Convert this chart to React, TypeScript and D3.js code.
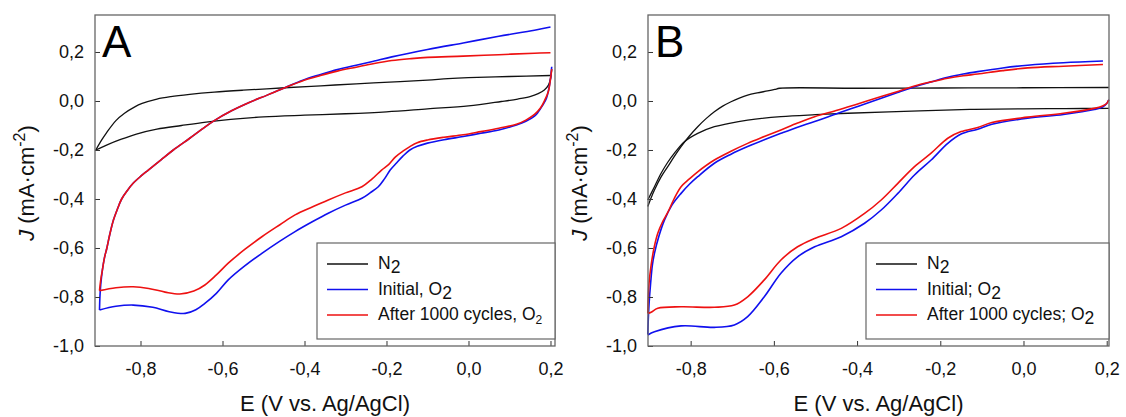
import React, { useRef, useEffect } from "react"
import * as d3 from "d3"

// panel A, [E, J] pairs, anodic (up) and cathodic (down) sweeps
const aN2Up = [[-0.909,-0.2],[-0.895,-0.16],[-0.883,-0.13],[-0.86,-0.08],[-0.839,-0.05],[-0.815,-0.025],[-0.796,-0.01],[-0.76,0.008],[-0.726,0.018],[-0.68,0.027],[-0.62,0.036],[-0.55,0.044],[-0.448,0.054],[-0.36,0.062],[-0.274,0.07],[-0.18,0.078],[-0.1,0.085],[-0.05,0.091],[0.0,0.095],[0.1,0.1],[0.2,0.104]]
const aN2Down = [[0.203,0.13],[0.2,0.09],[0.195,0.065],[0.185,0.045],[0.17,0.03],[0.15,0.018],[0.12,0.008],[0.08,-0.002],[0.0,-0.02],[-0.1,-0.032],[-0.2,-0.044],[-0.3,-0.052],[-0.4,-0.058],[-0.5,-0.065],[-0.58,-0.075],[-0.64,-0.086],[-0.7,-0.1],[-0.76,-0.115],[-0.81,-0.135],[-0.85,-0.158],[-0.88,-0.178],[-0.909,-0.2]]
const aBlueUp = [[-0.9,-0.853],[-0.899,-0.8],[-0.897,-0.75],[-0.893,-0.69],[-0.888,-0.64],[-0.882,-0.6],[-0.875,-0.545],[-0.866,-0.486],[-0.856,-0.44],[-0.846,-0.4],[-0.832,-0.365],[-0.818,-0.336],[-0.8,-0.308],[-0.781,-0.282],[-0.75,-0.24],[-0.72,-0.2],[-0.68,-0.152],[-0.65,-0.115],[-0.622,-0.082],[-0.578,-0.04],[-0.535,-0.006],[-0.491,0.024],[-0.448,0.054],[-0.404,0.085],[-0.361,0.108],[-0.32,0.128],[-0.274,0.146],[-0.23,0.163],[-0.187,0.18],[-0.1,0.21],[-0.013,0.237],[0.074,0.264],[0.161,0.289],[0.2,0.302]]
const aBlueDown = [[0.203,0.14],[0.2,0.09],[0.196,0.05],[0.19,0.01],[0.18,-0.02],[0.17,-0.045],[0.161,-0.062],[0.14,-0.083],[0.117,-0.098],[0.074,-0.118],[0.03,-0.132],[-0.013,-0.145],[-0.06,-0.158],[-0.1,-0.172],[-0.125,-0.185],[-0.143,-0.2],[-0.16,-0.225],[-0.175,-0.252],[-0.191,-0.282],[-0.205,-0.318],[-0.22,-0.35],[-0.24,-0.375],[-0.26,-0.397],[-0.3,-0.425],[-0.342,-0.458],[-0.38,-0.492],[-0.423,-0.533],[-0.46,-0.572],[-0.504,-0.622],[-0.545,-0.672],[-0.586,-0.73],[-0.615,-0.785],[-0.643,-0.826],[-0.665,-0.852],[-0.691,-0.867],[-0.73,-0.86],[-0.77,-0.842],[-0.818,-0.833],[-0.86,-0.838],[-0.9,-0.853]]
const aRedUp = [[-0.9,-0.774],[-0.897,-0.73],[-0.893,-0.69],[-0.888,-0.64],[-0.882,-0.6],[-0.875,-0.545],[-0.866,-0.486],[-0.856,-0.44],[-0.846,-0.4],[-0.832,-0.365],[-0.818,-0.336],[-0.8,-0.308],[-0.781,-0.282],[-0.75,-0.24],[-0.72,-0.2],[-0.68,-0.152],[-0.65,-0.115],[-0.622,-0.082],[-0.578,-0.04],[-0.535,-0.006],[-0.491,0.024],[-0.448,0.054],[-0.404,0.083],[-0.361,0.104],[-0.32,0.122],[-0.274,0.138],[-0.23,0.153],[-0.187,0.165],[-0.14,0.173],[-0.1,0.178],[-0.013,0.183],[0.074,0.189],[0.161,0.195],[0.2,0.197]]
const aRedDown = [[0.203,0.13],[0.2,0.09],[0.195,0.04],[0.185,0.0],[0.175,-0.03],[0.161,-0.055],[0.14,-0.078],[0.117,-0.095],[0.074,-0.111],[0.03,-0.125],[-0.013,-0.138],[-0.06,-0.148],[-0.1,-0.159],[-0.125,-0.17],[-0.143,-0.186],[-0.16,-0.205],[-0.178,-0.228],[-0.195,-0.26],[-0.212,-0.282],[-0.235,-0.318],[-0.26,-0.35],[-0.3,-0.375],[-0.342,-0.404],[-0.38,-0.432],[-0.423,-0.465],[-0.46,-0.505],[-0.504,-0.554],[-0.545,-0.605],[-0.586,-0.662],[-0.615,-0.71],[-0.643,-0.751],[-0.67,-0.776],[-0.704,-0.788],[-0.74,-0.78],[-0.78,-0.765],[-0.818,-0.758],[-0.86,-0.762],[-0.9,-0.774]]

// panel B
const bN2Up = [[-0.903,-0.431],[-0.895,-0.395],[-0.887,-0.363],[-0.871,-0.31],[-0.855,-0.268],[-0.84,-0.228],[-0.823,-0.186],[-0.803,-0.143],[-0.783,-0.105],[-0.763,-0.072],[-0.743,-0.044],[-0.723,-0.021],[-0.703,-0.003],[-0.683,0.012],[-0.663,0.024],[-0.64,0.033],[-0.615,0.041],[-0.598,0.047],[-0.586,0.052],[-0.4,0.052],[-0.2,0.053],[0.0,0.054],[0.205,0.055]]
const bN2Down = [[0.205,-0.03],[0.1,-0.031],[0.0,-0.032],[-0.118,-0.034],[-0.25,-0.04],[-0.422,-0.05],[-0.5,-0.056],[-0.583,-0.064],[-0.663,-0.078],[-0.71,-0.092],[-0.743,-0.105],[-0.783,-0.132],[-0.815,-0.166],[-0.839,-0.213],[-0.855,-0.25],[-0.871,-0.295],[-0.887,-0.35],[-0.903,-0.404]]
const bBlueUp = [[-0.903,-0.952],[-0.902,-0.9],[-0.9,-0.83],[-0.896,-0.74],[-0.892,-0.67],[-0.887,-0.622],[-0.876,-0.55],[-0.863,-0.486],[-0.845,-0.425],[-0.823,-0.377],[-0.803,-0.34],[-0.783,-0.309],[-0.743,-0.254],[-0.703,-0.217],[-0.663,-0.186],[-0.623,-0.158],[-0.583,-0.132],[-0.543,-0.107],[-0.502,-0.084],[-0.446,-0.05],[-0.395,-0.02],[-0.342,0.011],[-0.3,0.036],[-0.262,0.058],[-0.222,0.078],[-0.182,0.097],[-0.145,0.11],[-0.11,0.12],[-0.05,0.135],[0.01,0.146],[0.096,0.156],[0.191,0.163]]
const bBlueDown = [[0.205,0.005],[0.2,-0.01],[0.19,-0.025],[0.17,-0.035],[0.096,-0.055],[0.01,-0.07],[-0.076,-0.095],[-0.11,-0.115],[-0.15,-0.135],[-0.182,-0.173],[-0.222,-0.241],[-0.262,-0.302],[-0.302,-0.377],[-0.342,-0.445],[-0.382,-0.499],[-0.438,-0.554],[-0.502,-0.595],[-0.543,-0.636],[-0.583,-0.703],[-0.623,-0.799],[-0.663,-0.88],[-0.695,-0.914],[-0.743,-0.924],[-0.823,-0.918],[-0.887,-0.942],[-0.903,-0.955]]
const bRedUp = [[-0.903,-0.866],[-0.902,-0.81],[-0.9,-0.744],[-0.895,-0.67],[-0.888,-0.6],[-0.879,-0.54],[-0.868,-0.495],[-0.855,-0.455],[-0.84,-0.4],[-0.823,-0.35],[-0.803,-0.318],[-0.783,-0.289],[-0.743,-0.241],[-0.703,-0.205],[-0.663,-0.173],[-0.623,-0.145],[-0.583,-0.118],[-0.543,-0.09],[-0.502,-0.064],[-0.446,-0.037],[-0.395,-0.01],[-0.342,0.018],[-0.3,0.04],[-0.262,0.061],[-0.222,0.078],[-0.182,0.093],[-0.145,0.103],[-0.11,0.11],[-0.05,0.124],[0.01,0.135],[0.096,0.142],[0.191,0.149]]
const bRedDown = [[0.205,0.005],[0.2,-0.01],[0.19,-0.02],[0.17,-0.03],[0.096,-0.05],[0.01,-0.066],[-0.076,-0.088],[-0.11,-0.108],[-0.15,-0.125],[-0.182,-0.152],[-0.222,-0.213],[-0.262,-0.268],[-0.302,-0.336],[-0.342,-0.404],[-0.382,-0.459],[-0.438,-0.52],[-0.502,-0.561],[-0.543,-0.595],[-0.583,-0.649],[-0.623,-0.73],[-0.663,-0.799],[-0.695,-0.833],[-0.743,-0.842],[-0.823,-0.84],[-0.879,-0.846],[-0.895,-0.862],[-0.903,-0.867]]

const xTicks = [-0.8, -0.6, -0.4, -0.2, 0.0, 0.2]
const yTicks = [0.2, 0.0, -0.2, -0.4, -0.6, -0.8, -1.0]
const legendA = [["N", "2", false], ["Initial, O", "2", false], ["After 1000 cycles, O", "2", true]]
const legendB = [["N", "2", false], ["Initial; O", "2", false], ["After 1000 cycles; O", "2", false]]
const colors = ["#111111", "#1010ee", "#ee1111"]

const FONT = "Liberation Sans, Arial, sans-serif"
const fmt = (d: number) => d3.format(".1f")(d).replace(".", ",").replace("−", "-")

export default function App() {
    const svgRef = useRef<SVGSVGElement>(null)

    useEffect(() => {
        const svg = d3.select(svgRef.current)
        svg.selectAll("*").remove()

        const panels = [
            { letter: "A", x0: 95, x1: 555, dom: [-0.911, 0.211], series: [[aN2Up, aN2Down], [aBlueUp, aBlueDown], [aRedUp, aRedDown]], legend: legendA, lx: 317, labX: 27 },
            { letter: "B", x0: 648, x1: 1109, dom: [-0.9025, 0.2055], series: [[bN2Up, bN2Down], [bBlueUp, bBlueDown], [bRedUp, bRedDown]], legend: legendB, lx: 866, labX: 580 },
        ]
        const top = 15, bottom = 346

        panels.forEach(p => {
            const x = d3.scaleLinear().domain(p.dom).range([p.x0, p.x1])
            const y = d3.scaleLinear().domain([-1.0, 0.351]).range([bottom, top])
            const g = svg.append("g")

            // curves
            const line = d3.line<number[]>().x(d => x(d[0])).y(d => y(d[1])).curve(d3.curveCatmullRom)
            p.series.forEach((s, i) => {
                s.forEach(branch => {
                    g.append("path")
                        .attr("d", line(branch as number[][]))
                        .attr("fill", "none")
                        .attr("stroke", colors[i])
                        .attr("stroke-width", i == 0 ? 1.3 : 1.6)
                })
            })

            // axes, ticks inward
            g.append("g")
                .attr("transform", "translate(0," + bottom + ")")
                .call(d3.axisBottom(x).tickValues(xTicks).tickSizeInner(-5).tickSizeOuter(0).tickPadding(16).tickFormat(d => fmt(+d)))
                .call(a => a.select(".domain").remove())
                .call(a => a.selectAll("line").attr("stroke", "#333"))
                .call(a => a.selectAll("text").attr("font-size", "18px").attr("font-family", FONT).attr("fill", "#111"))
            g.append("g")
                .attr("transform", "translate(" + p.x0 + ",0)")
                .call(d3.axisLeft(y).tickValues(yTicks).tickSizeInner(-5).tickSizeOuter(0).tickPadding(11).tickFormat(d => fmt(+d)))
                .call(a => a.select(".domain").remove())
                .call(a => a.selectAll("line").attr("stroke", "#333"))
                .call(a => a.selectAll("text").attr("font-size", "18px").attr("font-family", FONT).attr("fill", "#111"))

            // frame
            g.append("rect")
                .attr("x", p.x0).attr("y", top)
                .attr("width", p.x1 - p.x0).attr("height", bottom - top)
                .attr("fill", "none").attr("stroke", "#666").attr("stroke-width", 1.3)

            // panel letter
            g.append("text")
                .attr("x", p.x0 + 7).attr("y", 57)
                .attr("font-family", FONT)
                .attr("font-size", "44px")
                .attr("fill", "#000")
                .text(p.letter)

            // axis titles
            g.append("text")
                .attr("x", (p.x0 + p.x1) / 2).attr("y", 411)
                .attr("text-anchor", "middle")
                .attr("font-family", FONT)
                .attr("font-size", "22px")
                .attr("fill", "#111")
                .text("E (V vs. Ag/AgCl)")
            const yl = g.append("text")
                .attr("transform", "translate(" + (p.labX + 7) + "," + 183 + ") rotate(-90)")
                .attr("text-anchor", "middle")
                .attr("font-family", FONT)
                .attr("font-size", "22px")
                .attr("fill", "#111")
            yl.append("tspan").attr("font-style", "italic").text("J")
            yl.append("tspan").text(" (mA·cm")
            yl.append("tspan").attr("dy", -9).attr("font-size", "16px").text("-2")
            yl.append("tspan").attr("dy", 9).text(")")

            // legend
            const lg = g.append("g")
            lg.append("rect")
                .attr("x", p.lx).attr("y", 243)
                .attr("width", p.x1 - p.lx).attr("height", 96)
                .attr("fill", "#fff").attr("stroke", "#666").attr("stroke-width", 1.2)
            p.legend.forEach((l, i) => {
                const ly = 264 + i * 25.5
                lg.append("line")
                    .attr("x1", p.lx + 10).attr("x2", p.lx + 51)
                    .attr("y1", ly).attr("y2", ly)
                    .attr("stroke", colors[i]).attr("stroke-width", 1.5)
                const t = lg.append("text")
                    .attr("x", p.lx + 61).attr("y", ly + 5)
                    .attr("font-family", FONT)
                    .attr("font-size", "17.5px")
                    .attr("fill", "#111")
                t.append("tspan").text(l[0] as string)
                t.append("tspan").attr("dy", 4).attr("font-size", l[2] ? "12px" : "17.5px").text(l[1] as string)
            })
        })
    }, [])

    return (
        <svg ref={svgRef} width={1126} height={417}
            style={{ position: "absolute", left: 0, top: 0, background: "#fff" }}></svg>
    )
}
